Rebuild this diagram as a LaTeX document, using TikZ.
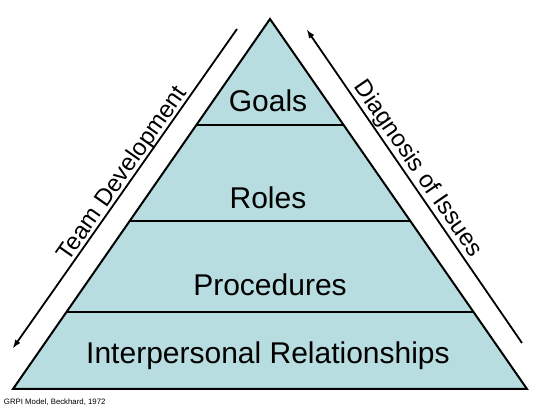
\documentclass[tikz,border=0pt]{standalone}
\usepackage{fontspec}
\setmainfont{Liberation Sans}
\usetikzlibrary{shapes,arrows,positioning,calc}
\definecolor{pyrfill}{RGB}{183,221,224}

\begin{document}
\begin{tikzpicture}[x=1pt, y=-1pt, line width=2pt,
    level/.style={font=\fontsize{30}{33}\selectfont, inner sep=0pt},
    side/.style={font=\fontsize{24}{27}\selectfont, inner sep=0pt},
    flow/.style={-latex, line width=1.8pt}]
                    \useasboundingbox (0,0) rectangle (542,414);
                    % pyramid corners
                    \coordinate (top) at (270,19);
                    \coordinate (bl) at (13,389);
                    \coordinate (br) at (527,389);
                    \draw[fill=pyrfill, line join=miter] (top) -- (bl) -- (br) -- cycle;
                    % layer borders
                    \draw (196.4,125) -- (343.6,125);
                    \draw (129.8,221) -- (410.2,221);
                    \draw (65.9,312.5) -- (474.1,312.5);
                    \node[level] (goals) at (268,101) {Goals};
                    \node[level] (roles) at (268,198) {Roles};
                    \node[level] (proc) at (270,285) {Procedures};
                    \node[level] (inter) at (268,356) {Interpersonal Relationships};
                    % side arrows
                    \coordinate (teamA) at (237,29);
                    \coordinate (teamB) at (13,348);
                    \coordinate (diagA) at (522,343);
                    \coordinate (diagB) at (307,30);
                    \draw[flow] (teamA) -- (teamB);
                    \draw[flow] (diagA) -- (diagB);
                    \node[side, rotate=54.9] (team) at (123,174) {Team Development};
                    \node[side, rotate=-55.5] (diag) at (418,169) {Diagnosis of Issues};
                    \node[anchor=west, font=\fontsize{7.8}{9}\selectfont, inner sep=0pt] (cite) at (3,402) {GRPI Model, Beckhard, 1972};
                \end{tikzpicture}
\end{document}
